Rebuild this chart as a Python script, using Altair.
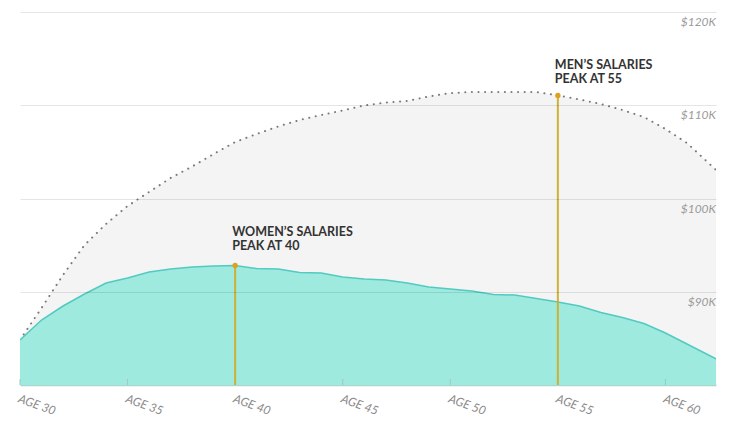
import altair as alt
import pandas as pd

# ---- data (salary in $K) ----
ages = list(range(30, 64))
women = [84.83, 86.97, 88.47, 89.76, 90.94, 91.47, 92.12, 92.44, 92.65, 92.76,
         92.82, 92.49, 92.44, 92.06, 92.01, 91.58, 91.37, 91.26, 90.94, 90.51,
         90.29, 90.08, 89.71, 89.65, 89.28, 88.90, 88.47, 87.77, 87.24, 86.60,
         85.58, 84.40, 83.22, 82.04]
men = [84.83, 88.26, 91.80, 95.01, 97.27, 99.20, 100.70, 102.20, 103.43, 104.77,
       106.06, 106.92, 107.72, 108.42, 108.95, 109.44, 109.97, 110.29, 110.46, 110.94,
       111.31, 111.42, 111.42, 111.42, 111.42, 111.05, 110.62, 110.13, 109.49, 108.74,
       107.45, 105.95, 103.81, 101.66]

grid_values = [90, 100, 110, 120]
grid_labels = ["$90K", "$100K", "$110K", "$120K"]
tick_ages = [30, 35, 40, 45, 50, 55, 60]

peak_ages = [40, 55]
peak_values = [92.82, 111.05]
ann_age = [40, 40, 55, 55]
ann_value = [92.82, 92.82, 111.05, 111.05]
ann_text = ["WOMEN\u2019S SALARIES", "PEAK AT 40", "MEN\u2019S SALARIES", "PEAK AT 55"]
ann_dy = [-33.5, -19.5, -30.5, -16.5]

df = pd.DataFrame({"age": ages, "women": women, "men": men})
peaks = pd.DataFrame({"age": peak_ages, "value": peak_values})
grid = pd.DataFrame({"value": grid_values, "label": grid_labels})
ticks = pd.DataFrame({"age": tick_ages})

W, H = 696, 373
xs = alt.Scale(domain=[30, 62.35], nice=False, zero=False)
ys = alt.Scale(domain=[80, 120], nice=False, zero=False)

x_axis = alt.Axis(values=tick_ages, labelExpr="'AGE ' + datum.value", labelAngle=20,
                  labelAlign="left", labelBaseline="top", labelPadding=8,
                  labelFont="Lato", labelFontStyle="italic", labelFontSize=12,
                  labelColor="#8a8a8a", labelFlush=False, labelOverlap=False,
                  ticks=False, grid=False, domainColor="#a9d6cf", domainWidth=1.5,
                  title=None)
y_axis = alt.Axis(values=grid_values, grid=True, gridColor="#000", gridOpacity=0.1,
                  labels=False, ticks=False, domain=False, title=None, zindex=1)

base = alt.Chart(df)

men_area = base.mark_area(color="#f4f4f4", clip=True).encode(
    x=alt.X("age:Q", scale=xs, axis=x_axis),
    y=alt.Y("men:Q", scale=ys, axis=y_axis),
    y2=alt.datum(80),
)
men_line = base.mark_line(color="#7a7a7a", strokeDash=[0.1, 6.5], strokeWidth=2,
                          strokeCap="round", clip=True).encode(
    x=alt.X("age:Q", scale=xs), y=alt.Y("men:Q", scale=ys))
women_area = base.mark_area(color="#9eeade", clip=True).encode(
    x=alt.X("age:Q", scale=xs), y=alt.Y("women:Q", scale=ys), y2=alt.datum(80))
women_line = base.mark_line(color="#52cac1", strokeWidth=1.5, clip=True).encode(
    x=alt.X("age:Q", scale=xs), y=alt.Y("women:Q", scale=ys))

tick_rules = alt.Chart(ticks).mark_rule(color="#9ccac3", strokeWidth=1).encode(
    x=alt.X("age:Q", scale=xs), y=alt.value(H - 6), y2=alt.value(H))

grid_text = alt.Chart(grid).mark_text(align="right", baseline="middle", dy=10,
                                      font="Lato", fontStyle="italic", fontSize=12,
                                      color="#9a9a9a").encode(
    x=alt.value(W), y=alt.Y("value:Q", scale=ys), text="label:N")

peak_rules = alt.Chart(peaks).mark_rule(color="#cfae2c", strokeWidth=2, opacity=0.95).encode(
    x=alt.X("age:Q", scale=xs), y=alt.Y("value:Q", scale=ys), y2=alt.datum(80))
peak_dots = alt.Chart(peaks).mark_point(filled=True, color="#dca21f", size=28, opacity=1).encode(
    x=alt.X("age:Q", scale=xs), y=alt.Y("value:Q", scale=ys))

ann_layers = []
for a, v, t, d in zip(ann_age, ann_value, ann_text, ann_dy):
    one = pd.DataFrame({"age": [a], "value": [v], "text": [t]})
    ann_layers.append(
        alt.Chart(one).mark_text(align="left", baseline="middle", dx=-3, dy=d,
                                 font="Lato", fontWeight="bold", fontSize=12.5,
                                 color="#333").encode(
            x=alt.X("age:Q", scale=xs), y=alt.Y("value:Q", scale=ys), text="text:N"))

chart = alt.layer(men_area, men_line, women_area, women_line, tick_rules, grid_text,
                  peak_rules, peak_dots, *ann_layers).properties(
    width=W, height=H, autosize="none", background="white",
    padding={"left": 12, "top": 4, "right": 11, "bottom": 49},
).configure_view(strokeWidth=0, stroke="transparent")

chart.save("out.html", embed_options={"renderer": "svg", "actions": False})
